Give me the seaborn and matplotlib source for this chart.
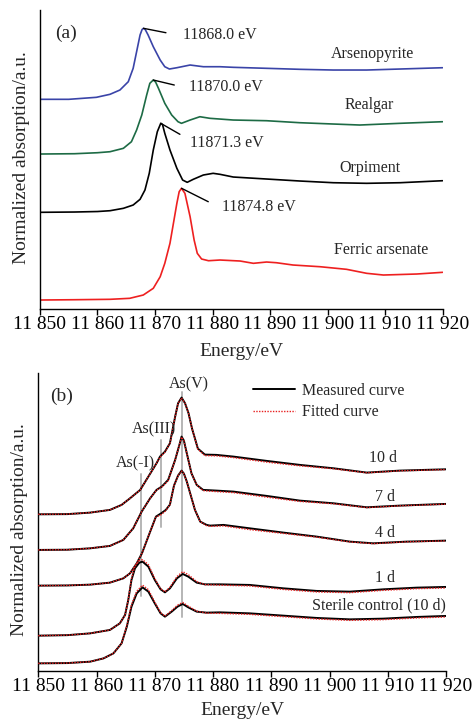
import matplotlib
matplotlib.use("Agg")
import matplotlib.pyplot as plt
import seaborn as sns
import pandas as pd

# ---- panel (a): reference spectra (stacked, a.u.) ----
e_arseno = [11850, 11855, 11859.8, 11862.17, 11863.9, 11865.35, 11866.2, 11866.8, 11867.4, 11867.75,
            11868.0, 11868.3, 11868.8, 11869.7, 11870.9, 11871.7, 11872.5, 11873.8, 11876.1, 11878.4,
            11881.3, 11883.6, 11889.4, 11895.2, 11901.0, 11906.8, 11912.6, 11920]
y_arseno = [2.097, 2.097, 2.117, 2.147, 2.19, 2.273, 2.407, 2.573, 2.74, 2.795,
            2.807, 2.795, 2.74, 2.623, 2.49, 2.423, 2.40, 2.413, 2.44, 2.423,
            2.423, 2.417, 2.407, 2.397, 2.39, 2.39, 2.40, 2.413]

e_realgar = [11850, 11856, 11860, 11862.17, 11864.5, 11865.9, 11866.8, 11867.7, 11868.55, 11869.1,
             11869.7, 11870.1, 11870.6, 11871.7, 11872.9, 11874.0, 11874.6, 11876.1, 11877.8, 11879.55,
             11883.6, 11889.4, 11895.2, 11901.0, 11905.6, 11912.6, 11920]
y_realgar = [1.55, 1.553, 1.563, 1.573, 1.607, 1.673, 1.79, 1.94, 2.14, 2.257,
             2.29, 2.27, 2.207, 2.057, 1.94, 1.873, 1.857, 1.89, 1.923, 1.907,
             1.89, 1.883, 1.863, 1.85, 1.84, 1.857, 1.873]

e_orpiment = [11850, 11856, 11860, 11862.17, 11864.5, 11866.2, 11867.4, 11868.25, 11869.0, 11869.7,
              11870.4, 11871.0, 11871.3, 11871.7, 11872.6, 11873.8, 11874.8, 11875.6, 11876.65, 11878.4,
              11880.1, 11881.3, 11883.6, 11889.4, 11895.2, 11901.0, 11906.8, 11912.6, 11920]
y_orpiment = [0.967, 0.97, 0.975, 0.983, 1.007, 1.04, 1.097, 1.19, 1.357, 1.59,
              1.773, 1.857, 1.845, 1.757, 1.59, 1.407, 1.29, 1.267, 1.297, 1.34,
              1.357, 1.347, 1.32, 1.30, 1.28, 1.263, 1.257, 1.263, 1.283]

e_ferric = [11850, 11856, 11862.17, 11865.6, 11867.96, 11869.7, 11870.9, 11871.7, 11872.6, 11873.3,
            11873.8, 11874.2, 11874.6, 11875.2, 11876.1, 11876.8, 11877.35, 11878.1, 11879.3, 11881.3,
            11884.8, 11887.1, 11889.4, 11891.1, 11894.0, 11898.7, 11903.3, 11906.8, 11909.7, 11915.5,
            11920]
y_ferric = [0.09, 0.093, 0.097, 0.107, 0.14, 0.207, 0.323, 0.457, 0.657, 0.89,
            1.057, 1.173, 1.207, 1.157, 0.923, 0.69, 0.557, 0.50, 0.483, 0.49,
            0.48, 0.457, 0.47, 0.463, 0.44, 0.423, 0.397, 0.357, 0.34, 0.35,
            0.367]

peak_labels = ["11868.0 eV", "11870.0 eV", "11871.3 eV", "11874.8 eV"]
sample_names = ["Arsenopyrite", "Realgar", "Orpiment", "Ferric arsenate"]

# ---- panel (b): bioleaching residues, measured vs fitted ----
e_10d = [11850, 11855, 11858.9, 11862.3, 11864.3, 11865.75, 11867.5, 11868.9, 11870.3, 11870.9,
         11871.75, 11872.6, 11873.5, 11874.0, 11874.6, 11875.2, 11875.8, 11876.4, 11877.4, 11878.6,
         11880.6, 11883.5, 11889.2, 11894.9, 11900.7, 11906.4, 11912.1, 11920]
meas_10d = [1.563, 1.565, 1.58, 1.607, 1.657, 1.723, 1.807, 1.94, 2.073, 2.14,
            2.19, 2.273, 2.54, 2.673, 2.73, 2.673, 2.573, 2.42, 2.22, 2.16,
            2.157, 2.14, 2.097, 2.057, 2.023, 1.98, 2.0, 2.013]
fit_10d = [1.563, 1.565, 1.58, 1.607, 1.657, 1.723, 1.807, 1.94, 2.073, 2.135,
           2.185, 2.27, 2.54, 2.673, 2.725, 2.673, 2.573, 2.42, 2.215, 2.15,
           2.147, 2.13, 2.085, 2.048, 2.018, 1.978, 1.998, 2.01]

e_7d = [11850, 11855, 11858.9, 11862.3, 11864.6, 11866.3, 11867.75, 11869.2, 11870.3, 11871.2,
        11872.3, 11873.5, 11874.3, 11874.6, 11875.0, 11875.5, 11876.3, 11877.2, 11878.3, 11880.6,
        11883.5, 11889.2, 11894.9, 11900.7, 11906.4, 11912.1, 11920]
meas_7d = [1.207, 1.209, 1.223, 1.247, 1.307, 1.423, 1.59, 1.723, 1.807, 1.84,
           1.907, 2.107, 2.273, 2.34, 2.30, 2.173, 1.973, 1.857, 1.807, 1.80,
           1.79, 1.747, 1.70, 1.673, 1.633, 1.65, 1.667]
fit_7d = [1.207, 1.209, 1.223, 1.247, 1.307, 1.423, 1.59, 1.723, 1.805, 1.835,
          1.90, 2.107, 2.273, 2.335, 2.30, 2.173, 1.973, 1.857, 1.80, 1.79,
          1.78, 1.735, 1.692, 1.668, 1.63, 1.648, 1.665]

e_4d = [11850, 11855, 11858.9, 11862.3, 11864.6, 11865.75, 11866.9, 11867.8, 11869.1, 11870.2,
        11871.1, 11871.9, 11872.6, 11873.3, 11874.0, 11874.6, 11875.0, 11875.5, 11876.9, 11877.8,
        11878.9, 11879.5, 11881.8, 11886.3, 11892.1, 11897.8, 11903.5, 11907.5, 11913.25, 11920]
meas_4d = [0.85, 0.852, 0.86, 0.88, 0.923, 0.973, 1.073, 1.173, 1.373, 1.54,
           1.573, 1.607, 1.66, 1.85, 1.95, 2.0, 1.97, 1.89, 1.607, 1.49,
           1.457, 1.45, 1.457, 1.423, 1.38, 1.34, 1.29, 1.273, 1.29, 1.30]
fit_4d = [0.85, 0.852, 0.86, 0.88, 0.923, 0.973, 1.073, 1.173, 1.373, 1.535,
          1.56, 1.60, 1.66, 1.85, 1.95, 1.995, 1.97, 1.89, 1.607, 1.49,
          1.45, 1.443, 1.447, 1.41, 1.372, 1.335, 1.287, 1.27, 1.288, 1.298]

e_1d = [11850, 11855, 11858.9, 11862.3, 11864.0, 11864.9, 11865.45, 11866.0, 11866.6, 11867.35,
        11867.9, 11868.9, 11870.0, 11871.0, 11871.75, 11872.6, 11873.8, 11874.8, 11875.75, 11877.2,
        11878.6, 11881.2, 11886.3, 11892.1, 11897.8, 11903.5, 11909.2, 11915, 11920]
meas_1d = [0.35, 0.355, 0.373, 0.407, 0.473, 0.557, 0.707, 0.907, 1.023, 1.08,
           1.09, 1.04, 0.907, 0.813, 0.783, 0.823, 0.923, 0.967, 0.94, 0.88,
           0.863, 0.863, 0.857, 0.823, 0.797, 0.79, 0.813, 0.83, 0.837]
fit_1d = [0.35, 0.355, 0.373, 0.407, 0.473, 0.557, 0.71, 0.92, 1.045, 1.10,
          1.11, 1.06, 0.92, 0.82, 0.788, 0.833, 0.94, 0.99, 0.96, 0.89,
          0.86, 0.855, 0.847, 0.812, 0.787, 0.78, 0.803, 0.82, 0.827]

e_ster = [11850, 11855, 11858.9, 11861.2, 11862.9, 11864.3, 11865.2, 11866.0, 11866.9, 11867.9,
          11868.9, 11870.0, 11871.0, 11871.75, 11872.9, 11873.9, 11874.8, 11875.75, 11877.2, 11878.9,
          11881.2, 11886.3, 11892.1, 11897.8, 11903.5, 11909.2, 11915, 11920]
meas_ster = [0.073, 0.076, 0.09, 0.123, 0.173, 0.273, 0.44, 0.64, 0.773, 0.833,
             0.79, 0.673, 0.573, 0.54, 0.59, 0.64, 0.667, 0.633, 0.59, 0.58,
             0.583, 0.573, 0.55, 0.527, 0.513, 0.52, 0.537, 0.547]
fit_ster = [0.073, 0.076, 0.09, 0.123, 0.173, 0.273, 0.45, 0.66, 0.795, 0.855,
            0.81, 0.685, 0.58, 0.545, 0.6, 0.655, 0.682, 0.645, 0.595, 0.575,
            0.573, 0.563, 0.54, 0.517, 0.503, 0.51, 0.527, 0.537]

day_labels = ["10 d", "7 d", "4 d", "1 d", "Sterile control (10 d)"]
state_labels = ["As(-I)", "As(III)", "As(V)"]

tick_pos = [11850, 11860, 11870, 11880, 11890, 11900, 11910, 11920]
tick_labels = ["11 850", "11 860", "11 870", "11 880", "11 890", "11 900", "11 910", "11 920"]

sns.set_theme(style="ticks")
plt.rcParams["font.family"] = ["Liberation Serif", "DejaVu Serif"]
plt.rcParams["axes.linewidth"] = 1.0

fig = plt.figure(figsize=(4.72, 7.21), dpi=100)
ax1 = fig.add_axes([0.0847, 0.5714, 0.853, 0.4147])
ax2 = fig.add_axes([0.0811, 0.0698, 0.8638, 0.4125])


def style_axis(ax, top):
    ax.set_xlim(11850, 11920)
    ax.set_ylim(0, top)
    ax.set_xticks(tick_pos, tick_labels)
    ax.set_yticks([])
    ax.tick_params(axis="x", direction="out", length=4, width=1, labelsize=14, pad=1, colors="black")
    for side in ["top", "right"]:
        ax.spines[side].set_visible(False)
    for side in ["left", "bottom"]:
        ax.spines[side].set_color("black")
    ax.set_xlabel("Energy/eV", fontsize=14)
    ax.set_ylabel("Normalized absorption/a.u.", fontsize=14)


# panel (a)
curves_a = [(e_arseno, y_arseno, "#3a44a8"), (e_realgar, y_realgar, "#1d6b45"),
            (e_orpiment, y_orpiment, "black"), (e_ferric, y_ferric, "#ee2020")]
for e, y, c in curves_a:
    sns.lineplot(x=e, y=y, ax=ax1, color=c, lw=1.2, estimator=None, sort=False)

# peak marker lines: (peak E, peak y, end E, end y, text E, text y)
marks = [(11868.0, 2.807, 11871.9, 2.763, 11874.8, 2.74),
         (11869.7, 2.29, 11873.35, 2.24, 11875.96, 2.217),
         (11871.0, 1.857, 11874.33, 1.747, 11876.07, 1.663),
         (11874.62, 1.207, 11879.26, 1.073, 11881.58, 1.017)]
for (x0, y0, x1, y1, tx, ty), lab in zip(marks, peak_labels):
    ax1.plot([x0, x1], [y0, y1], color="black", lw=1.0)
    ax1.text(tx, ty, lab, fontsize=11.5, ha="left", va="center")

name_pos = [(11907.8, 2.55), (11907.2, 2.04), (11907.4, 1.407), (11909.3, 0.59)]
for (tx, ty), lab in zip(name_pos, sample_names):
    ax1.text(tx, ty, lab, fontsize=11.5, ha="center", va="center")
ax1.text(11852.6, 2.757, "(a)", fontsize=14, ha="left", va="center")
style_axis(ax1, 2.99)

# panel (b)
for x, ymin, ymax in [(11867.7, 0.75, 1.967), (11871.1, 1.44, 2.307), (11874.7, 0.533, 2.79)]:
    ax2.plot([x, x], [ymin, ymax], color="#b5b5b5", lw=1.4, zorder=1)

curves_b = [(e_10d, meas_10d, fit_10d), (e_7d, meas_7d, fit_7d), (e_4d, meas_4d, fit_4d),
            (e_1d, meas_1d, fit_1d), (e_ster, meas_ster, fit_ster)]
for i, (e, m, f) in enumerate(curves_b):
    df = pd.DataFrame({"energy": e, "measured": m, "fitted": f})
    sns.lineplot(data=df, x="energy", y="measured", ax=ax2, color="black", lw=1.4,
                 estimator=None, sort=False, zorder=2, label="Measured curve" if i == 0 else None)
    sns.lineplot(data=df, x="energy", y="fitted", ax=ax2, color="#e82020", lw=1.0, ls=(0, (1, 1)),
                 estimator=None, sort=False, zorder=3, label="Fitted curve" if i == 0 else None)

state_pos = [(11866.6, 2.073), (11869.9, 2.407), (11875.9, 2.857)]
for (tx, ty), lab in zip(state_pos, state_labels):
    ax2.text(tx, ty, lab, fontsize=11.5, ha="center", va="center")

day_pos = [(11909.1, 2.123), (11909.5, 1.74), (11909.5, 1.38), (11909.5, 0.923)]
for (tx, ty), lab in zip(day_pos, day_labels[:4]):
    ax2.text(tx, ty, lab, fontsize=11.5, ha="center", va="center")
ax2.text(11920, 0.657, day_labels[4], fontsize=11.5, ha="right", va="center")
ax2.text(11852.0, 2.74, "(b)", fontsize=14, ha="left", va="center")

ax2.legend(loc="upper left", bbox_to_anchor=(0.527, 0.968), frameon=False, fontsize=11.5,
           handlelength=2.6, handletextpad=0.45, labelspacing=0.35, borderpad=0, borderaxespad=0)
style_axis(ax2, 2.973)

for ax, lx, ly, xy in [(ax1, -0.026, 0.505, -0.115), (ax2, -0.024, 0.473, -0.105)]:
    ax.yaxis.set_label_coords(lx, ly)
    ax.xaxis.set_label_coords(0.5, xy)

fig.savefig("out.png", dpi=100)
